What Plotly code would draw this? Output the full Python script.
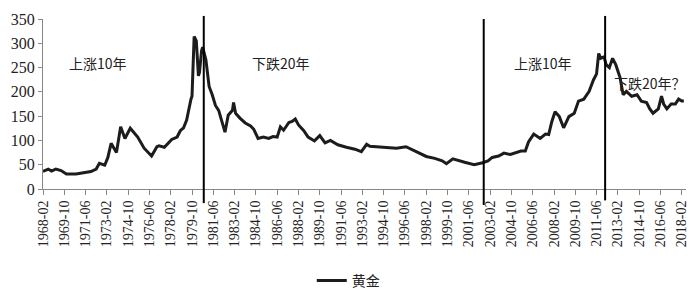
import plotly.graph_objects as go

# Gold price series
dates = [
    "1968-02", "1968-07", "1968-10", "1969-02", "1969-07", "1969-12", "1970-09", "1971-03",
    "1971-11", "1972-04", "1972-07", "1972-12", "1973-03", "1973-06", "1973-11", "1974-03",
    "1974-07", "1974-12", "1975-07", "1976-01", "1976-08", "1977-01", "1977-03", "1977-08",
    "1978-03", "1978-08", "1978-11", "1979-02", "1979-05", "1979-09", "1979-10", "1979-12",
    "1980-02", "1980-04", "1980-05", "1980-07", "1980-08", "1980-11", "1981-02", "1981-05",
    "1981-08", "1981-11", "1982-03", "1982-05", "1982-08", "1982-12", "1983-01", "1983-03",
    "1983-07", "1983-12", "1984-05", "1984-08", "1984-12", "1985-05", "1985-10", "1986-02",
    "1986-06", "1986-09", "1986-12", "1987-05", "1987-08", "1987-11", "1988-02", "1988-07",
    "1988-11", "1989-05", "1989-10", "1990-03", "1990-08", "1991-03", "1991-11", "1992-07",
    "1993-01", "1993-06", "1993-09", "1994-03", "1995-01", "1995-10", "1996-07", "1997-01",
    "1997-08", "1998-02", "1998-10", "1999-05", "1999-09", "2000-03", "2001-02", "2001-11",
    "2002-07", "2002-12", "2003-04", "2003-10", "2004-03", "2004-09", "2005-07", "2005-11",
    "2006-02", "2006-07", "2007-01", "2007-06", "2007-09", "2007-12", "2008-03", "2008-07",
    "2008-11", "2009-04", "2009-09", "2010-01", "2010-06", "2010-11", "2011-03", "2011-06",
    "2011-08", "2011-10", "2012-01", "2012-03", "2012-06", "2012-09", "2012-12", "2013-04",
    "2013-07", "2013-10", "2014-03", "2014-08", "2014-12", "2015-05", "2015-08", "2015-11",
    "2016-04", "2016-07", "2016-09", "2016-12", "2017-04", "2017-08", "2017-11", "2018-02",
    "2018-04",
]
gold = [
    36, 41, 37, 41, 38, 31, 31, 33,
    36, 41, 53, 49, 65, 94, 75, 128,
    104, 125, 107, 84, 68, 87, 89, 86,
    102, 107, 120, 126, 142, 185, 191, 314,
    305, 233, 240, 285, 292, 266, 211, 194,
    172, 162, 133, 117, 152, 162, 178, 156,
    146, 136, 130, 123, 104, 107, 104, 108,
    107, 128, 121, 137, 139, 144, 132, 120,
    107, 99, 110, 95, 100, 91, 86, 82,
    77, 92, 88, 87, 86, 84, 87, 81,
    73, 67, 63, 58, 52, 62, 55, 50,
    54, 58, 65, 68, 74, 71, 78, 78,
    97, 113, 104, 113, 112, 139, 159, 149,
    126, 149, 156, 181, 185, 201, 224, 237,
    279, 269, 272, 256, 250, 269, 256, 230,
    194, 201, 191, 194, 181, 178, 165, 156,
    165, 191, 175, 165, 175, 175, 185, 181,
    181, 165,
]

x_tick_labels = [
    "1968-02", "1969-10", "1971-06", "1973-02", "1974-10", "1976-06", "1978-02", "1979-10",
    "1981-06", "1983-02", "1984-10", "1986-06", "1988-02", "1989-10", "1991-06", "1993-02",
    "1994-10", "1996-06", "1998-02", "1999-10", "2001-06", "2003-02", "2004-10", "2006-06",
    "2008-02", "2009-10", "2011-06", "2013-02", "2014-10", "2016-06", "2018-02",
]
divider_dates = ["1980-09", "2002-08", "2012-02"]
phase_labels = ["上涨10年", "下跌20年", "上涨10年", "下跌20年？"]
phase_x = ["1972-06", "1986-10", "2007-04", "2015-08"]
phase_y = [260, 260, 260, 218]

fig = go.Figure()
fig.add_trace(go.Scatter(
    x=dates, y=gold, mode="lines", name="黄金",
    line=dict(color="#1c1c1c", width=3),
))

for d, y0, y1 in zip(divider_dates, [-0.083, -0.094, -0.067], [1.018, 1.0, 1.018]):
    fig.add_shape(type="line", xref="x", yref="paper", x0=d, x1=d, y0=y0, y1=y1,
                  line=dict(color="#000000", width=2))

for t, xx, yy in zip(phase_labels, phase_x, phase_y):
    fig.add_annotation(x=xx, y=yy, text=t, showarrow=False,
                       font=dict(family="Noto Sans CJK SC", size=14, color="#222222"))

fig.update_layout(
    width=700, height=308,
    margin=dict(l=43, r=11, t=15, b=113),
    paper_bgcolor="white", plot_bgcolor="white",
    showlegend=True,
    legend=dict(orientation="h", x=0.418, xanchor="left", y=-0.54, yanchor="middle",
                font=dict(family="Noto Sans CJK SC", size=14, color="#222222"),
                bgcolor="rgba(0,0,0,0)"),
    xaxis=dict(
        type="date", range=["1968-02-01", "2018-06-01"],
        tickmode="array", tickvals=[l + "-01" for l in x_tick_labels], ticktext=x_tick_labels,
        tickangle=-90, ticks="outside", ticklen=5, tickcolor="#888888",
        showline=True, linecolor="#888888", linewidth=1, showgrid=False, zeroline=False,
        tickfont=dict(family="Liberation Serif", size=14, color="#222222"),
    ),
    yaxis=dict(
        range=[0, 350], tickmode="linear", tick0=0, dtick=50,
        ticks="outside", ticklen=4, tickcolor="#888888",
        showline=True, linecolor="#888888", linewidth=1, showgrid=False, zeroline=False,
        tickfont=dict(family="Liberation Serif", size=16, color="#222222"),
    ),
)

fig.write_html("out.html")
